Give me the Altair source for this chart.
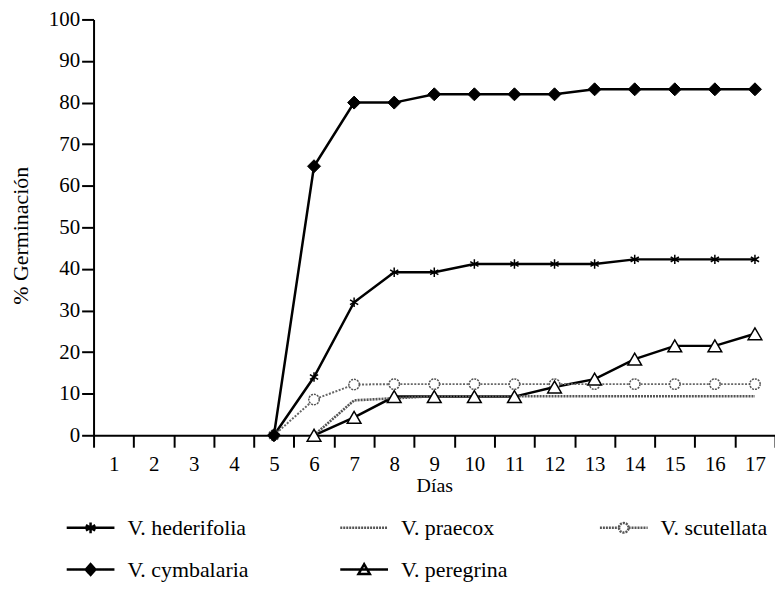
import altair as alt
import pandas as pd

days = list(range(1, 18))
names = ["V. hederifolia", "V. praecox", "V. scutellata", "V. cymbalaria", "V. peregrina"]
hederifolia = [None] * 4 + [0, 14, 32, 39.2, 39.2, 41.2, 41.2, 41.2, 41.2, 42.3, 42.3, 42.3, 42.3]
praecox = [None] * 5 + [0, 8.4, 8.9, 9.4, 9.4, 9.4, 9.4, 9.4, 9.4, 9.4, 9.4, 9.4]
scutellata = [None] * 4 + [0, 8.6, 12.2, 12.3, 12.3, 12.3, 12.3, 12.3, 12.3, 12.3, 12.3, 12.3, 12.3]
cymbalaria = [None] * 4 + [0, 64.7, 80, 80, 82, 82, 82, 82, 83.2, 83.2, 83.2, 83.2, 83.2]
peregrina = [None] * 5 + [0, 4.3, 9.3, 9.3, 9.3, 9.3, 11.6, 13.5, 18.3, 21.5, 21.5, 24.4]

series_values = [hederifolia, praecox, scutellata, cymbalaria, peregrina]
rows = []
for name, vals in zip(names, series_values):
    for d, v in zip(days, vals):
        if v is not None:
            rows.append({"series": name, "day": d, "pct": v})
df = pd.DataFrame(rows)

FONT = "Liberation Serif"

x_enc = alt.X(
    "day:O",
    scale=alt.Scale(type="band", domain=days, paddingInner=0, paddingOuter=0),
    axis=alt.Axis(title="Días", tickBand="extent", labelAngle=0, labelPadding=6,
                  titlePadding=2, titleFontSize=20, labelFont=FONT, titleFont=FONT),
)
y_enc = alt.Y(
    "pct:Q",
    scale=alt.Scale(domain=[0, 100], nice=False),
    axis=alt.Axis(title="% Germinación", values=list(range(0, 101, 10)), titleFontSize=22,
                  labelPadding=2, titlePadding=16, titleY=217, labelFont=FONT, titleFont=FONT),
)

base = alt.Chart(df)

def only(names_sel):
    return alt.FieldOneOfPredicate(field="series", oneOf=names_sel)

lines_black = base.transform_filter(only(["V. hederifolia", "V. cymbalaria", "V. peregrina"])).mark_line(
    color="black", strokeWidth=2.5).encode(x=x_enc, y=y_enc, detail="series:N")
line_praecox = base.transform_filter(only(["V. praecox"])).mark_line(
    color="#555555", strokeWidth=2.6, strokeDash=[2, 1]).encode(x=x_enc, y=y_enc)
line_scut = base.transform_filter(only(["V. scutellata"])).mark_line(
    color="#666666", strokeWidth=2, strokeDash=[2, 1.5]).encode(x=x_enc, y=y_enc)

asterisk = "M0,-1V1M-0.87,-0.5L0.87,0.5M-0.87,0.5L0.87,-0.5"
pts_hed = base.transform_filter(only(["V. hederifolia"])).mark_point(
    shape=asterisk, size=90, stroke="black", strokeWidth=1.5, opacity=1, filled=False
).encode(x=x_enc, y=y_enc)
pts_cym = base.transform_filter(only(["V. cymbalaria"])).mark_point(
    shape="diamond", size=170, fill="black", stroke="black", strokeWidth=1, opacity=1, filled=True
).encode(x=x_enc, y=y_enc)
pts_scut = base.transform_filter(only(["V. scutellata"])).mark_point(
    shape="circle", size=110, fill="white", stroke="#555555", strokeDash=[2, 1], strokeWidth=1.5,
    opacity=1, filled=True
).encode(x=x_enc, y=y_enc)
pts_per = base.transform_filter(only(["V. peregrina"])).mark_point(
    shape="triangle-up", size=190, fill="white", stroke="black", strokeWidth=1.5, opacity=1, filled=True
).encode(x=x_enc, y=y_enc)

legend_paths = [
    "M-4,0H4M0,-0.9V0.9M-0.78,-0.45L0.78,0.45M-0.78,0.45L0.78,-0.45",
    "M-4,0H4",
    "M-4,0H-0.8M0.8,0H4M-0.8,0A0.8,0.8,0,1,0,0.8,0A0.8,0.8,0,1,0,-0.8,0Z",
    "M-4,0H4M0,-0.9L0.8,0L0,0.9L-0.8,0Z",
    "M-4,0H4M0,-0.9L0.95,0.75H-0.95Z",
]
legend_fill = ["black", "transparent", "white", "black", "white"]
legend_stroke = ["black", "#555555", "#555555", "black", "black"]
legend_dash = [[1, 0], [2, 1], [2, 1], [1, 0], [1, 0]]

leg = alt.Legend(
    title=None, orient="none", legendX=-14, legendY=500, columns=3, direction="horizontal",
    gridAlign="each", columnPadding=87, rowPadding=20, symbolSize=144, symbolStrokeWidth=2.5,
    labelOffset=26, labelFont=FONT, labelFontSize=22, labelColor="black", labelLimit=300,
)

legend_layer = base.transform_filter("false").mark_point(opacity=1, strokeWidth=2.5).encode(
    x=x_enc, y=y_enc,
    shape=alt.Shape("series:N", scale=alt.Scale(domain=names, range=legend_paths), legend=leg),
    fill=alt.Fill("series:N", scale=alt.Scale(domain=names, range=legend_fill), legend=leg),
    stroke=alt.Stroke("series:N", scale=alt.Scale(domain=names, range=legend_stroke), legend=leg),
    strokeDash=alt.StrokeDash("series:N", scale=alt.Scale(domain=names, range=legend_dash), legend=leg),
)

chart = alt.layer(
    lines_black, line_praecox, line_scut, pts_scut, pts_hed, pts_cym, pts_per, legend_layer
).properties(
    width=685, height=418,
    autosize=alt.AutoSizeParams(type="none"),
    padding={"left": 86, "top": 10, "right": 0, "bottom": 148},
    background="white",
).configure(font=FONT).configure_axis(
    labelFont=FONT, titleFont=FONT, labelFontSize=21, titleFontWeight="normal",
    labelColor="black", titleColor="black", domainColor="black", tickColor="black",
    domainWidth=2, tickWidth=2, tickSize=12, grid=False,
).configure_legend(labelFont=FONT).configure_view(stroke=None)

chart.save("out.html", embed_options={"renderer": "svg", "actions": False})
